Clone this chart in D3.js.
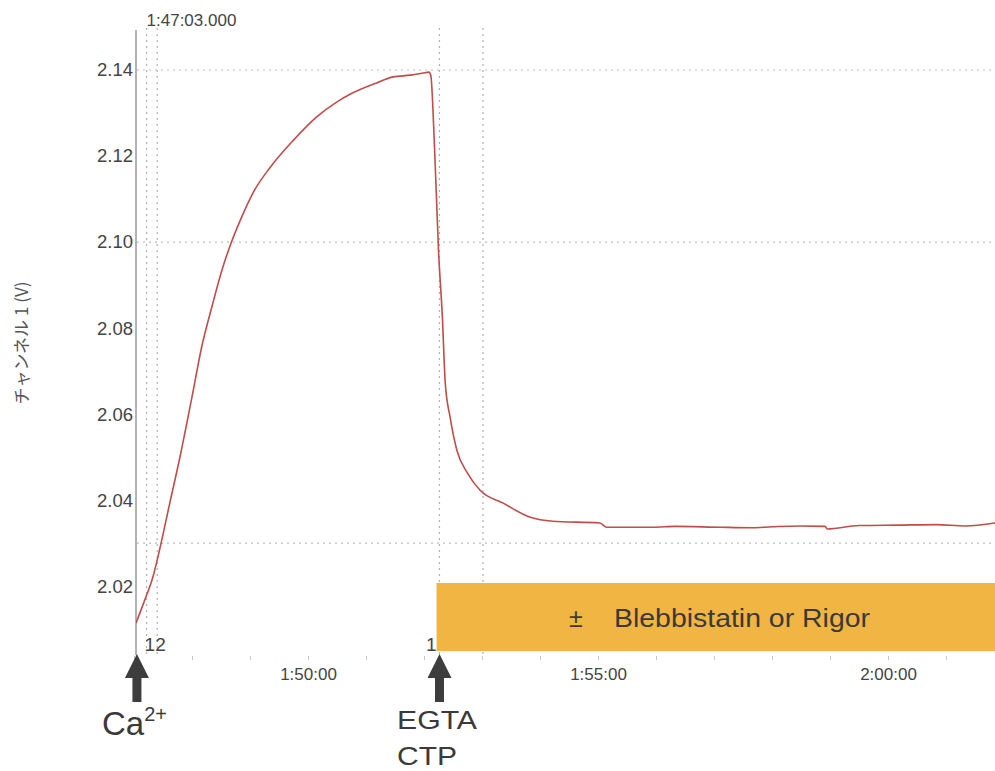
<!DOCTYPE html>
<html>
<head>
<meta charset="utf-8">
<script src="https://cdn.jsdelivr.net/npm/d3@7"></script>
<style>
  body { margin: 0; background: #fff; }
  text { font-family: "Liberation Sans", Arial, sans-serif; }
</style>
</head>
<body>
<div id="chart"></div>
<script>
//********************************************************************//
//                    DATA
//*******************************************************************//

  // recording starts at 1:47:00, trace is given in seconds after that
  var startClock = "1:47:00";
  var traceSec  = [2, 11, 20, 27, 37, 48, 60, 70, 81, 91, 100, 110, 123, 141, 165, 189, 210, 223,
                   251, 268, 286, 299, 305, 307, 311, 315, 319, 322, 327, 334, 345, 358,
                   382, 410, 433, 482, 489, 537, 560, 606, 640, 660, 689, 715, 717, 750,
                   792, 830, 860, 891];
  var traceVolt = [2.0114, 2.0167, 2.0225, 2.0290, 2.0393, 2.0505, 2.0640, 2.0756, 2.0853,
                   2.0935, 2.0995, 2.1051, 2.1114, 2.1174, 2.1237, 2.1291, 2.1326, 2.1343,
                   2.1370, 2.1384, 2.1388, 2.1393, 2.1395, 2.1388, 2.1214, 2.0981, 2.0826,
                   2.0672, 2.0593, 2.0516, 2.0463, 2.0423,
                   2.0393, 2.0360, 2.0351, 2.0347, 2.0337, 2.0337, 2.0339, 2.0337, 2.0336,
                   2.0338, 2.0340, 2.0339, 2.0333, 2.0341,
                   2.0342, 2.0343, 2.0340, 2.0347];

  var yTicks = [2.02, 2.04, 2.06, 2.08, 2.10, 2.12, 2.14];
  var yGridLevels = [2.14, 2.10, 2.03];        // dotted level lines
  var cursorSec = [13, 24, 316, 361];          // dotted vertical cursors
  var cursorTopLabel = "1:47:03.000";
  var cursorBottomLabels = ["12", "1"];

  var eventSec = [2, 315];                      // arrows
  var eventLabels = [["Ca", "2+"], ["EGTA", "CTP"]];
  var boxStartSec = 313;
  var boxText = ["\u00B1", "Blebbistatin or Rigor"];

//********************************************************************//
//                    CHART
//*******************************************************************//

  var width = 995, height = 771;
  var plotLeft = 136, plotTop = 30, plotBottom = 655;

  var base = new Date(Date.UTC(2000, 0, 1, 1, 47, 0));
  function secToDate(s) { return new Date(base.getTime() + s * 1000); }

  var svg = d3.select("#chart")
              .append("svg")
              .attr("width", width)
              .attr("height", height);

  var x = d3.scaleUtc()
            .domain([base, d3.utcMinute.offset(base, 15)])
            .range([134, 1004]);

  var y = d3.scaleLinear()
            .domain([2.004, 2.1493])
            .range([plotBottom, plotTop]);

  svg.append("clipPath").attr("id", "clip")
     .append("rect").attr("x", plotLeft).attr("y", 0)
     .attr("width", width - plotLeft).attr("height", height);

  // dotted horizontal levels
  svg.selectAll("hgrid")
     .data(yGridLevels)
     .enter()
     .append("line")
     .attr("x1", plotLeft + 1).attr("x2", width)
     .attr("y1", function(d){ return y(d); })
     .attr("y2", function(d){ return y(d); })
     .attr("stroke", "#bdbdbd")
     .attr("stroke-width", 1.2)
     .attr("stroke-dasharray", "2,4");

  // dotted vertical cursors
  svg.selectAll("vgrid")
     .data(cursorSec)
     .enter()
     .append("line")
     .attr("x1", function(d){ return x(secToDate(d)); })
     .attr("x2", function(d){ return x(secToDate(d)); })
     .attr("y1", 28).attr("y2", plotBottom)
     .attr("stroke", "#b0b0b0")
     .attr("stroke-width", 1.2)
     .attr("stroke-dasharray", "2,4");

  svg.append("text")
     .attr("x", x(secToDate(cursorSec[0])))
     .attr("y", 26)
     .attr("font-size", "17px")
     .attr("fill", "#444")
     .text(cursorTopLabel);

  svg.append("text")
     .attr("x", x(secToDate(cursorSec[0])) - 2)
     .attr("y", 651)
     .attr("font-size", "19px")
     .attr("fill", "#444")
     .text(cursorBottomLabels[0]);

  svg.append("text")
     .attr("x", x(secToDate(cursorSec[2])) - 3)
     .attr("y", 651)
     .attr("text-anchor", "end")
     .attr("font-size", "19px")
     .attr("fill", "#444")
     .text(cursorBottomLabels[1]);

  // y axis
  var yAxis = svg.append("g")
                 .attr("transform", "translate(" + plotLeft + ",0)")
                 .call(d3.axisLeft(y).tickValues(yTicks).tickSize(0).tickPadding(3)
                         .tickFormat(d3.format(".2f")));
  yAxis.select(".domain").remove();
  yAxis.selectAll("text")
       .attr("font-size", "18.5px")
       .attr("fill", "#444")
       .style("font-family", "Liberation Sans, Arial, sans-serif");

  svg.append("line")
     .attr("x1", plotLeft).attr("x2", plotLeft)
     .attr("y1", plotTop).attr("y2", plotBottom)
     .attr("stroke", "#9a9a9a")
     .attr("stroke-width", 1.5);

  // x axis (minute ticks, labels every 5 min)
  var xAxis = svg.append("g")
                 .attr("transform", "translate(0," + (plotBottom + 1) + ")")
                 .call(d3.axisBottom(x)
                         .ticks(d3.utcMinute.every(1))
                         .tickSize(4).tickPadding(8)
                         .tickFormat(function(d){
                           return d.getUTCMinutes() % 5 === 0 ? d3.utcFormat("%-H:%M:%S")(d) : "";
                         }));
  xAxis.select(".domain").remove();
  xAxis.selectAll("line").attr("stroke", "#c8c8c8");
  xAxis.selectAll("text")
       .attr("font-size", "17px")
       .attr("fill", "#444")
       .style("font-family", "Liberation Sans, Arial, sans-serif");

  // y axis title
  svg.append("text")
     .attr("transform", "translate(28,343) rotate(-90)")
     .attr("text-anchor", "middle")
     .attr("font-size", "17px")
     .attr("fill", "#555")
     .style("font-family", "Noto Sans CJK JP, sans-serif")
     .text("チャンネル 1 (V)");

  // trace
  var trace = traceSec.map(function(s, i){ return {t: secToDate(s), v: traceVolt[i]}; });
  var line = d3.line()
               .x(function(d){ return x(d.t); })
               .y(function(d){ return y(d.v); })
               .curve(d3.curveMonotoneX);

  svg.append("path")
     .datum(trace)
     .attr("clip-path", "url(#clip)")
     .attr("d", line)
     .attr("fill", "none")
     .attr("stroke", "#bf4d4a")
     .attr("stroke-width", 1.6);

  // orange box
  var bx = x(secToDate(boxStartSec));
  svg.append("rect")
     .attr("x", bx).attr("y", 583)
     .attr("width", width - bx).attr("height", 68)
     .attr("fill", "#f0b542");

  svg.append("text")
     .attr("x", 569).attr("y", 627)
     .attr("font-size", "25px")
     .attr("fill", "#3a3a3a")
     .text(boxText[0]);
  svg.append("text")
     .attr("x", 614).attr("y", 627)
     .attr("font-size", "25px")
     .attr("fill", "#3a3a3a")
     .attr("textLength", 256)
     .attr("lengthAdjust", "spacingAndGlyphs")
     .text(boxText[1]);

  // event arrows
  eventSec.forEach(function(s){
    var ax = x(secToDate(s)) + 1;
    svg.append("path")
       .attr("d", "M" + ax + ",654 L" + (ax + 12) + ",678 L" + (ax + 4.5) + ",678 L" + (ax + 4.5) + ",702 L" +
                  (ax - 4.5) + ",702 L" + (ax - 4.5) + ",678 L" + (ax - 12) + ",678 Z")
       .attr("fill", "#3d3d3d");
  });

  var ca = svg.append("text")
              .attr("x", 102).attr("y", 735)
              .attr("font-size", "33px")
              .attr("fill", "#3a3a3a");
  ca.append("tspan").text(eventLabels[0][0]);
  ca.append("tspan").attr("font-size", "20px").attr("dy", -14).text(eventLabels[0][1]);

  svg.append("text")
     .attr("x", 397).attr("y", 729)
     .attr("font-size", "26px")
     .attr("fill", "#3a3a3a")
     .attr("textLength", 80)
     .attr("lengthAdjust", "spacingAndGlyphs")
     .text(eventLabels[1][0]);
  svg.append("text")
     .attr("x", 397).attr("y", 765)
     .attr("font-size", "26px")
     .attr("fill", "#3a3a3a")
     .attr("textLength", 60)
     .attr("lengthAdjust", "spacingAndGlyphs")
     .text(eventLabels[1][1]);
</script>
</body>
</html>
